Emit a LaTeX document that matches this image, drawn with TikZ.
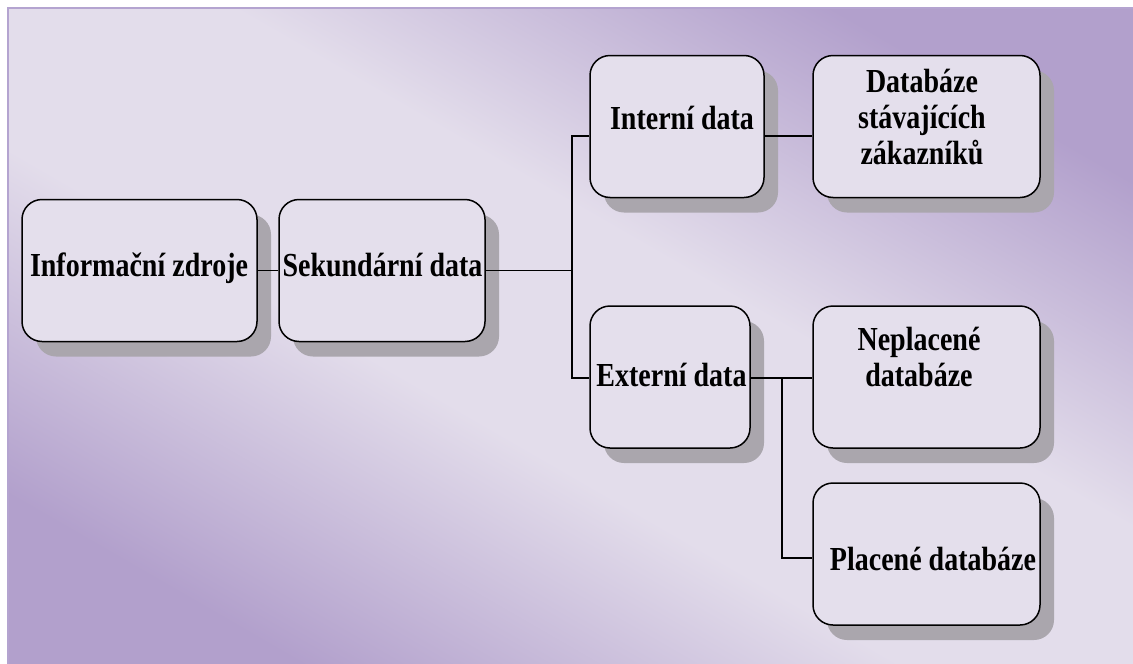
\documentclass[tikz,border=0pt]{standalone}
\usepackage{fontspec}
\setmainfont{Liberation Serif}
\usepackage{graphicx}
\usepackage{tikz}
\usetikzlibrary{shadows}

\newcommand{\lbl}[1]{\scalebox{1}[1.2]{\begin{tabular}{@{}c@{}}#1\end{tabular}}}

\definecolor{fondsombre}{RGB}{178,160,204}
\definecolor{fondclair}{RGB}{227,221,235}
\pgfdeclareverticalshading{fond}{100bp}{color(0bp)=(fondsombre); color(25bp)=(fondsombre);
  color(43bp)=(fondclair); color(57bp)=(fondclair); color(75bp)=(fondsombre); color(100bp)=(fondsombre)}

\tikzset{
  boite/.style={draw=black, line width=1.5pt, rounded corners=20pt,
    fill={rgb,255:red,228;green,223;blue,236},
    minimum width=#1, minimum height=142pt, inner sep=0pt,
    drop shadow={shadow xshift=14pt, shadow yshift=-15pt,
      fill={rgb,255:red,170;green,166;blue,173}, opacity=1}},
  texte/.style={font=\fontsize{28}{30}\selectfont\bfseries, inner sep=0pt},
  lien/.style={line width=1.2pt, color=black}
}

\begin{document}
\begin{tikzpicture}[x=1pt, y=-1pt]
\useasboundingbox (0,0) rectangle (1133,664);
% Fond
\draw[color={rgb,255:red,180;green,164;blue,208}, line width=2pt,
  shading=fond, shading angle=-30] (8,8) rectangle (1145,675);
% Boites
\node[boite=235pt] (inf) at (139.5,270.5) {};
\node[boite=206pt] (sek) at (382,270.5) {};
\node[boite=174pt] (int) at (677,126.5) {};
\node[boite=227pt] (dbs) at (926.5,126.5) {};
\node[boite=160pt] (ext) at (670,377) {};
\node[boite=227pt] (nep) at (926.5,377) {};
\node[boite=227pt] (pla) at (926.5,554) {};
% Textes
\node[texte] (tinf) at (139,269) {\lbl{Informační zdroje}};
\node[texte] (tsek) at (382.5,269) {\lbl{Sekundární data}};
\node[texte] (tint) at (682,122) {\lbl{Interní data}};
\node[texte] (tdbs) at (922,121) {\lbl{Databáze\\stávajících\\zákazníků}};
\node[texte] (text) at (671.5,379) {\lbl{Externí data}};
\node[texte] (tnep) at (919,361) {\lbl{Neplacené\\databáze}};
\node[texte] (tpla) at (933,563) {\lbl{Placené databáze}};
% Segments
\coordinate (fork1) at (572,270.5);
\coordinate (fork2) at (782,378);
\draw[lien] (inf.east) -- (sek.west);
\draw[lien] (sek.east) -- (fork1);
\draw[lien] ([yshift=-9.5pt]int.west) -| (fork1) |- ([yshift=-1pt]ext.west);
\draw[lien] ([yshift=-9.5pt]int.east) -- ([yshift=-9.5pt]dbs.west);
\draw[lien] ([yshift=-1pt]ext.east) -- ([yshift=-1pt]nep.west);
\draw[lien] (fork2) |- ([yshift=-4pt]pla.west);
\end{tikzpicture}
\end{document}
